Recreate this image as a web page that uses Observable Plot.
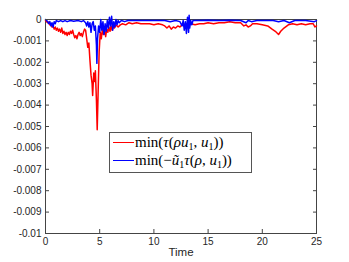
<!DOCTYPE html>
<html>
<head>
<meta charset="utf-8">
<script src="https://cdn.jsdelivr.net/npm/d3@7"></script>
<script src="https://cdn.jsdelivr.net/npm/@observablehq/plot@0.6"></script>
<style>
  html, body { margin: 0; padding: 0; background: #fff; }
  #wrap { position: relative; width: 349px; height: 262px; }
  #legend {
    position: absolute; left: 109px; top: 132px; width: 141px; height: 39px;
    border: 1px solid #555; background: #fff; box-sizing: content-box;
    font-family: "Liberation Serif", "DejaVu Serif", serif; font-size: 15px; color: #000;
  }
  .row { position: absolute; left: 3px; display: flex; align-items: center; white-space: nowrap; }
  .sw { display: inline-block; width: 21px; height: 0; border-top: 1.5px solid; margin-right: 1px; }
  sub { font-size: 10px; vertical-align: -3px; line-height: 0; }
  i { font-style: italic; }
</style>
</head>
<body>
<div id="wrap"></div>
<script>
// ---- data ----
const redTime = [0,0.1,0.2,0.3,0.4,0.5,0.6,0.7,0.8,0.9,1.0,1.1,1.2,1.3,1.4,1.5,1.6,1.7,1.8,1.9,2.0,2.1,2.2,2.3,2.4,2.5,2.6,2.7,2.8,2.9,3.0,3.1,3.2,3.3,3.4,3.5,3.6,3.7,3.8,3.9,4.0,4.1,4.2,4.3,4.35,4.45,4.55,4.6,4.7,4.77,4.85,4.95,5.05,5.15,5.25,5.35,5.45,5.55,5.65,5.75,5.85,5.95,6.05,6.15,6.25,6.35,6.5,6.7,6.9,7.1,7.4,7.7,8.0,8.4,8.8,9.2,9.6,10.0,10.4,10.8,11.0,11.2,11.4,11.6,11.8,12.0,12.2,12.4,12.6,12.8,13.0,13.2,13.4,13.8,14.2,14.6,15.0,15.5,16.0,16.5,17.0,17.5,18.0,18.3,18.5,18.7,18.9,19.1,19.5,20.0,20.5,20.9,21.2,21.5,21.7,22.0,22.4,22.8,23.2,23.6,24.0,24.4,24.7,24.85,25.0];
const redValue = [-0.00005,-0.0001,-0.00015,-0.00012,-0.00025,-0.0002,-0.00035,-0.0003,-0.00045,-0.00035,-0.0005,-0.0004,-0.00055,-0.00045,-0.0006,-0.0004,-0.00065,-0.00055,-0.0007,-0.0006,-0.00075,-0.0006,-0.0007,-0.00055,-0.00065,-0.0005,-0.0007,-0.00085,-0.00075,-0.0009,-0.0007,-0.0006,-0.00075,-0.00065,-0.0008,-0.0006,-0.00045,-0.0005,-0.0009,-0.0013,-0.0011,-0.0019,-0.0026,-0.003,-0.00355,-0.0025,-0.0029,-0.0024,-0.0038,-0.00515,-0.0035,-0.0015,-0.0006,-0.0009,-0.00045,-0.0007,-0.0005,-0.0008,-0.00045,-0.0006,-0.00035,-0.00055,-0.0003,-0.0005,-0.0003,-0.0004,-0.00025,-0.00035,-0.00025,-0.0002,-0.00025,-0.00015,-0.0002,-0.00015,-0.0002,-0.0002,-0.0002,-0.00025,-0.0002,-0.00025,-0.0003,-0.0004,-0.0003,-0.00045,-0.00035,-0.0004,-0.0003,-0.00035,-0.00025,-0.0003,-0.0002,-0.0003,-0.0002,-0.00025,-0.0002,-0.0002,-0.00015,-0.0002,-0.00015,-0.00015,-0.0001,-0.00015,-0.00015,-0.0003,-0.00025,-0.00035,-0.0003,-0.0002,-0.0002,-0.00025,-0.0003,-0.00045,-0.00055,-0.0007,-0.00055,-0.0004,-0.00025,-0.0002,-0.00025,-0.0002,-0.00025,-0.0002,-0.0002,-0.00035,-0.0003];

const blueTime = [0,0.1,0.2,0.3,0.4,0.5,0.6,0.7,0.8,0.9,1.0,1.2,1.4,1.6,1.8,2.0,2.3,2.6,3.0,3.3,3.5,3.7,3.8,3.9,4.0,4.1,4.2,4.3,4.4,4.5,4.6,4.7,4.74,4.8,4.9,5.0,5.1,5.2,5.3,5.4,5.5,5.6,5.7,5.8,5.9,6.0,6.1,6.2,6.3,6.4,6.5,6.6,6.7,6.8,7.0,7.3,7.6,8.0,9.0,10.0,11.0,11.5,12.0,12.4,12.6,12.7,12.8,12.9,13.0,13.1,13.2,13.25,13.3,13.4,13.5,13.6,14.0,15.0,16.0,17.0,18.0,18.5,18.7,19.0,19.5,20.0,21.0,21.5,22.0,22.5,23.0,24.0,24.8,25.0];
const blueValue = [0,-0.00005,-0.0001,-0.0002,-0.0001,-0.0003,-0.00015,-0.00035,-0.0001,-0.0002,-0.00005,-0.0001,-0.00005,-0.0001,-0.00005,-0.0001,-0.00005,-0.00008,-0.00005,-0.0001,-0.00005,-0.00015,-0.0003,-0.0001,-0.00035,-0.00015,-0.0006,-0.0002,-0.0001,-0.0005,-0.0003,-0.0012,-0.00205,-0.0009,-0.0003,-0.0006,0,-0.0005,-0.0001,-0.0007,-0.0002,-0.00055,-0.00005,-0.0004,0.0001,-0.0003,0.00015,-0.0005,-0.0001,-0.00035,0,-0.00025,-0.00005,-0.00015,-0.00005,-0.0001,-0.00005,-0.00005,-0.00005,-0.00005,-0.00005,-0.0001,-0.00005,-0.0001,-0.0003,-0.00005,-0.0005,-0.0001,-0.00065,0.0001,-0.0006,0.0002,-0.0004,-0.00005,-0.00025,-0.00005,-0.00005,-0.00003,-0.00005,-0.00003,-0.00005,-0.00015,-0.00005,-0.0001,-0.00005,-0.00005,-0.00005,-0.0001,-0.00005,-0.00015,-0.00005,-0.00005,-0.0001,-0.00005];

const xTicks = [0,5,10,15,20,25];
const yTicks = [0,-0.001,-0.002,-0.003,-0.004,-0.005,-0.006,-0.007,-0.008,-0.009,-0.01];
const yTickLabels = ["0","-0.001","-0.002","-0.003","-0.004","-0.005","-0.006","-0.007","-0.008","-0.009","-0.01"];
const seriesNames = ["min(τ(ρu₁, u₁))", "min(−ũ₁τ(ρ, u₁))"];
const seriesColors = ["#ff0000", "#0000ff"];

const red = redTime.map((t, i) => ({t, v: redValue[i]}));
const blue = blueTime.map((t, i) => ({t, v: blueValue[i]}));
const axisColor = "#444";

const chart = Plot.plot({
  width: 349, height: 262,
  marginLeft: 45, marginRight: 33, marginTop: 19, marginBottom: 29,
  style: {fontFamily: "'Liberation Sans', Arial, sans-serif", fontSize: "10px", color: "#262626", background: "#fff"},
  x: {domain: [0, 25]},
  y: {domain: [-0.01, 0]},
  marks: [
    Plot.frame({stroke: axisColor, strokeWidth: 1}),
    Plot.line(red, {x: "t", y: "v", stroke: seriesColors[0], strokeWidth: 1.5}),
    Plot.line(blue, {x: "t", y: "v", stroke: seriesColors[1], strokeWidth: 1.5}),
    Plot.axisY({ticks: yTicks, tickSize: -4, tickPadding: 8, stroke: axisColor, fill: "#262626",
      tickFormat: (d) => yTickLabels[yTicks.indexOf(d)], label: null}),
    Plot.axisY({anchor: "right", ticks: yTicks, tickSize: -4, stroke: axisColor, tickFormat: () => "", label: null}),
    Plot.axisX({ticks: xTicks, tickSize: -4, tickPadding: 8, stroke: axisColor, fill: "#262626",
      tickFormat: (d) => String(d), label: null}),
    Plot.text(["Time"], {frameAnchor: "bottom", dy: 22, fontSize: 11.5, fill: "#262626"})
  ]
});

const wrap = document.getElementById("wrap");
wrap.appendChild(chart);

const legend = document.createElement("div");
legend.id = "legend";
legend.innerHTML = `
  <div class="row" style="top:1px"><span class="sw" style="border-color:${seriesColors[0]}"></span><span>min(<i>τ</i>(<i>ρu</i><sub>1</sub>, <i>u</i><sub>1</sub>))</span></div>
  <div class="row" style="top:19px"><span class="sw" style="border-color:${seriesColors[1]}"></span><span>min(−<i>ũ</i><sub>1</sub><i>τ</i>(<i>ρ</i>, <i>u</i><sub>1</sub>))</span></div>`;
legend.setAttribute("aria-label", seriesNames.join(" / "));
wrap.appendChild(legend);
</script>
</body>
</html>
